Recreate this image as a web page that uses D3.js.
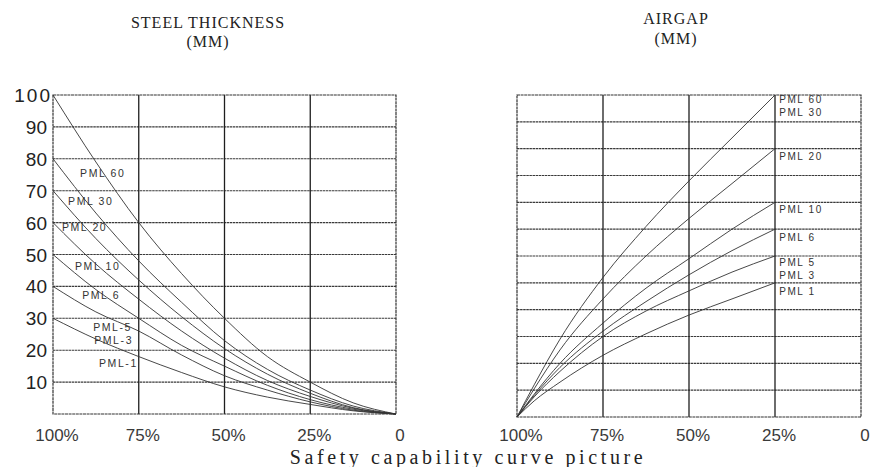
<!DOCTYPE html>
<html><head><meta charset="utf-8">
<script src="https://cdn.jsdelivr.net/npm/d3@7"></script>
<style>
html,body{margin:0;padding:0;background:#fff;}
svg{display:block;}
</style></head>
<body>
<svg id="chart" width="874" height="467"></svg>
<script>
// ---------- DATA ----------
const xTickLabels = ["100%", "75%", "50%", "25%", "0"];
const xTickValues = [100, 75, 50, 25, 0];
const leftYTicks = [10, 20, 30, 40, 50, 60, 70, 80, 90, 100];

// Steel thickness (mm) vs safety capability (%)
const steelX = [100, 87.5, 75, 62.5, 50, 37.5, 25, 12.5, 0];
const steelPML60 = [100, 79, 60, 44, 30, 18, 10, 3.5, 0];
const steelPML30 = [80, 63, 48, 35, 23, 14, 7.5, 2.5, 0];
const steelPML20 = [70, 55, 42, 30.5, 20.5, 12.5, 6.5, 2, 0];
const steelPML10 = [60, 47, 36, 26, 17.5, 10.5, 5.5, 1.8, 0];
const steelPML6 = [50, 39, 30, 21.5, 15, 9, 4.5, 1.5, 0];
const steelPML5 = [40, 32, 26, 18.5, 12, 7.5, 3.8, 1.2, 0];
const steelPML1 = [30, 23.5, 18, 13, 8.5, 5.3, 3, 1, 0];
const steelLabels = ["PML 60", "PML 30", "PML 20", "PML 10", "PML 6", "PML-5", "PML-3", "PML-1"];
const steelLabelX = [92.1, 95.6, 97.4, 93.6, 91.5, 88.3, 88.0, 86.6];
const steelLabelY = [74.3, 65.5, 57.4, 45.1, 36.0, 26.0, 21.9, 14.7];

// Airgap (mm) vs safety capability (%)
const airX = [100, 95, 87.5, 75, 62.5, 50, 37.5, 25];
const airPML60 = [0, 12, 29, 52, 71, 88, 104, 120];
const airPML20 = [0, 10.5, 25, 44, 60, 74, 87, 100];
const airPML10 = [0, 8.5, 20, 35, 48, 59, 70, 80];
const airPML6 = [0, 8, 18.5, 32, 43, 53, 62, 70];
const airPML5 = [0, 7.5, 17, 30, 39.5, 47, 54, 60];
const airPML1 = [0, 6, 13, 23, 31, 38, 44, 50];
const airGrid = [10, 20, 30, 40, 50, 60, 70, 80, 90, 100, 110];
const airLabels = ["PML 60", "PML 30", "PML 20", "PML 10", "PML 6", "PML 5", "PML 3", "PML 1"];
const airLabelX = [23.8, 23.8, 23.8, 23.8, 23.8, 23.8, 23.8, 23.8];
const airLabelY = [117.0, 112.0, 95.8, 76.0, 65.6, 56.3, 51.4, 45.5];

const titleLeft = ["STEEL THICKNESS", "(MM)"];
const titleRight = ["AIRGAP", "(MM)"];
const caption = "Safety capability curve picture";

// ---------- DRAW ----------
const svg = d3.select("#chart");

function panel(opts) {
  const x = d3.scaleLinear().domain([100, 0]).range(opts.xr);
  const y = d3.scaleLinear().domain([0, opts.ymax]).range(opts.yr);
  const g = svg.append("g");

  g.selectAll("line.h").data(opts.hgrid).enter().append("line")
    .attr("x1", x(100)).attr("x2", x(0))
    .attr("y1", d => y(d)).attr("y2", d => y(d))
    .attr("stroke", "#3a3a3a")
    .attr("stroke-width", 1.1)
    .attr("stroke-dasharray", "2.5,0.6");
  g.selectAll("line.v").data([75, 50, 25]).enter().append("line")
    .attr("x1", d => x(d)).attr("x2", d => x(d))
    .attr("y1", y(0)).attr("y2", y(opts.ymax))
    .attr("stroke", "#1e1e1e").attr("stroke-width", 1.3);
  g.append("rect")
    .attr("x", x(100)).attr("y", y(opts.ymax))
    .attr("width", x(0) - x(100)).attr("height", y(0) - y(opts.ymax))
    .attr("fill", "none").attr("stroke", "#333").attr("stroke-width", 1.2)
    .attr("stroke-dasharray", "3,0.6");

  const line = d3.line().x((d, i) => x(opts.cx[i])).y(d => y(d)).curve(d3.curveMonotoneX);
  g.selectAll("path.c").data(opts.series).enter().append("path")
    .attr("d", d => line(d))
    .attr("fill", "none").attr("stroke", "#333").attr("stroke-width", 0.9);

  g.selectAll("text.l").data(opts.labels).enter().append("text")
    .attr("x", (d, i) => x(opts.lx[i]))
    .attr("y", (d, i) => y(opts.ly[i]))
    .attr("font-family", "Liberation Sans, Arial, sans-serif")
    .attr("font-size", opts.lfs)
    .attr("letter-spacing", 1.6)
    .attr("fill", "#333")
    .text(d => d);

  g.selectAll("text.xt").data(xTickValues).enter().append("text")
    .attr("x", d => x(d) + 4)
    .attr("y", 441)
    .attr("text-anchor", "middle")
    .attr("font-family", "Liberation Sans, Arial, sans-serif")
    .attr("font-size", 17)
    .attr("fill", "#3a3a3a")
    .text((d, i) => xTickLabels[i]);

  return {x, y};
}

const L = panel({
  xr: [53, 396], yr: [414, 95], ymax: 100,
  hgrid: leftYTicks.slice(0, 9),
  cx: steelX,
  series: [steelPML60, steelPML30, steelPML20, steelPML10, steelPML6, steelPML5, steelPML1],
  labels: steelLabels, lx: steelLabelX, ly: steelLabelY, lfs: 10.5
});

svg.selectAll("text.yt").data(leftYTicks).enter().append("text")
  .attr("x", d => d === 100 ? 52 : 47)
  .attr("y", d => L.y(d) + 7)
  .attr("text-anchor", "end")
  .attr("letter-spacing", d => d === 100 ? 2 : 0)
  .attr("font-family", "Liberation Sans, Arial, sans-serif")
  .attr("font-size", 19)
  .attr("fill", "#222")
  .text(d => d);

const R = panel({
  xr: [517, 861], yr: [417, 95], ymax: 120,
  hgrid: airGrid,
  cx: airX,
  series: [airPML60, airPML20, airPML10, airPML6, airPML5, airPML1],
  labels: airLabels, lx: airLabelX, ly: airLabelY, lfs: 10
});

function title(lines, cx, ys) {
  svg.selectAll(null).data(lines).enter().append("text")
    .attr("x", cx).attr("y", (d, i) => ys[i])
    .attr("text-anchor", "middle")
    .attr("font-family", "Liberation Serif, Times New Roman, serif")
    .attr("font-size", 16)
    .attr("letter-spacing", 1)
    .attr("fill", "#222")
    .text(d => d);
}
title(titleLeft, 208, [28, 47]);
title(titleRight, 676, [24, 44]);

svg.append("text")
  .attr("x", 468).attr("y", 464)
  .attr("text-anchor", "middle")
  .attr("font-family", "Liberation Serif, Times New Roman, serif")
  .attr("font-size", 20)
  .attr("letter-spacing", 3.6)
  .attr("fill", "#222")
  .text(caption);
</script>
</body></html>
